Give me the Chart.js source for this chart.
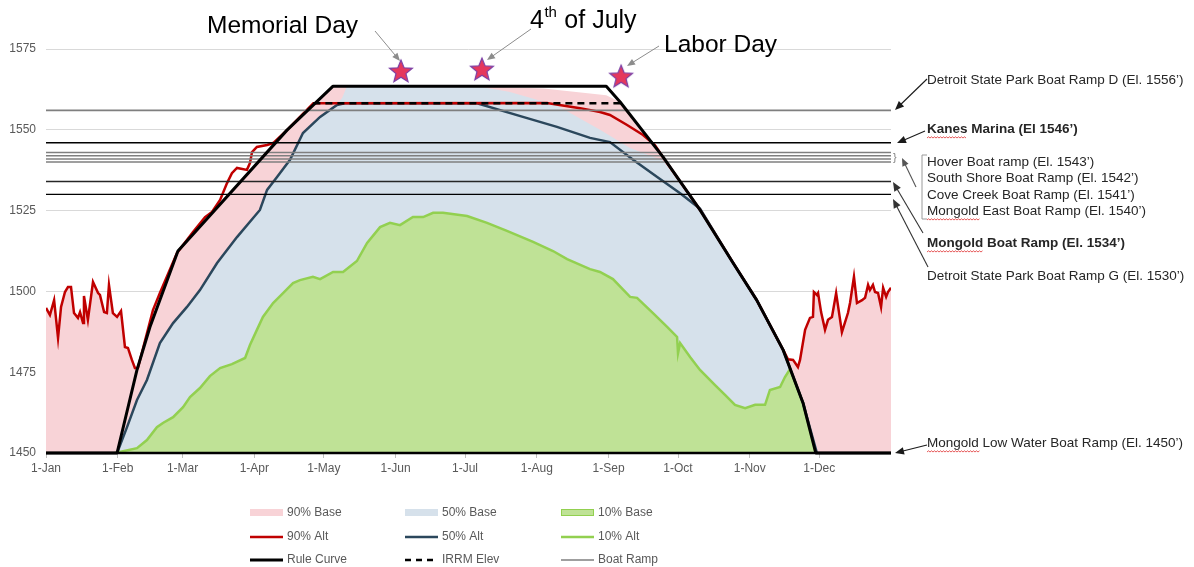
<!DOCTYPE html>
<html><head><meta charset="utf-8">
<script src="https://cdn.jsdelivr.net/npm/chart.js@4.4.1/dist/chart.umd.min.js"></script>
<style>html,body{margin:0;padding:0;background:#fff;}#wrap{width:1194px;height:567px;}</style>
</head><body><div id="wrap"><canvas id="c" width="1194" height="567"></canvas></div>
<script>
// ---------- DATA (day of year, elevation in ft) ----------
const monthTicks = [0,31,59,90,120,151,181,212,243,273,304,334];
const monthLabels = ['1-Jan','1-Feb','1-Mar','1-Apr','1-May','1-Jun','1-Jul','1-Aug','1-Sep','1-Oct','1-Nov','1-Dec'];
const yTicks = [1450,1475,1500,1525,1550,1575];

const ruleCurve = [[0,1450],[30.7,1450],[39.3,1475.7],[44.9,1489],[57,1512.5],[104.1,1549.9],[124,1563.5],[242,1563.5],[248,1558.6],[266.5,1541.6],[282.5,1525.2],[296.8,1508.8],[307,1497.3],[318.4,1481.9],[327,1465.5],[332.5,1450],[365,1450]];
const irrmElev = [[115.5,1558.2],[249,1558.2]];

const alt90 = [[0,1494.9],[1.7,1492.7],[3.5,1497.3],[5.2,1485.6],[6.5,1495.2],[8.2,1499.8],[9.5,1501.4],[10.8,1501.4],[12.1,1493.3],[13.8,1491.8],[14.7,1493.6],[16,1490.2],[16.4,1498.6],[18.1,1491.2],[20.3,1502.9],[22.5,1499.5],[23.3,1498.9],[25.1,1493.6],[26.3,1493.3],[27.2,1502],[28.9,1493.3],[30.7,1492.1],[32.4,1493.9],[34.1,1482.8],[35.4,1482.5],[37.1,1478.8],[38.4,1476.3],[39.7,1476.3],[46.2,1494.2],[49.2,1499.5],[56.6,1511.9],[63.5,1518.4],[68.7,1523],[71.7,1524.6],[75.2,1528.3],[78.2,1533.5],[80.3,1536.6],[82.5,1538.2],[86.8,1537.6],[88.1,1539.7],[89,1543.1],[91.1,1544.7],[95.5,1545.3],[98.1,1545.9],[104.1,1549.9],[115.5,1558.2],[216.4,1558.3],[230.7,1556.7],[239.3,1555.5],[243.6,1554.6],[251,1551.5],[257.9,1548.4],[263,1545.3],[266.5,1541.6],[282.5,1525.2],[296.8,1508.8],[307,1497.3],[318.4,1481.9],[320.5,1479],[322.7,1478.8],[324.8,1476.6],[325.7,1478.8],[327.9,1488.1],[330,1491.8],[331.3,1492.1],[331.7,1499.8],[333,1498.9],[333.5,1499.5],[334.8,1493.6],[336.5,1488.1],[337.8,1491.2],[339.5,1492.1],[341.3,1499.5],[343.8,1487.4],[346.4,1493.3],[347.3,1496.4],[349,1504.5],[350.3,1496.4],[352.5,1497.3],[353.8,1498],[355.1,1502],[355.9,1500.4],[357.2,1502],[358.1,1499.8],[359.4,1499.5],[360.7,1495.2],[361.6,1501.1],[362.9,1498.3],[363.7,1499.8],[365,1501.1]];

const base90 = [[0,1494.9],[1.7,1492.7],[3.5,1497.3],[5.2,1485.6],[6.5,1495.2],[8.2,1499.8],[9.5,1501.4],[10.8,1501.4],[12.1,1493.3],[13.8,1491.8],[14.7,1493.6],[16,1490.2],[16.4,1498.6],[18.1,1491.2],[20.3,1502.9],[22.5,1499.5],[23.3,1498.9],[25.1,1493.6],[26.3,1493.3],[27.2,1502],[28.9,1493.3],[30.7,1492.1],[32.4,1493.9],[34.1,1482.8],[35.4,1482.5],[37.1,1478.8],[38.4,1476.3],[39.7,1476.3],[44.9,1489],[57,1512.5],[104.1,1549.9],[124,1563.5],[186,1563.5],[215,1562.8],[242,1560.7],[248,1558.6],[266.5,1541.6],[282.5,1525.2],[296.8,1508.8],[307,1497.3],[318.4,1481.9],[320.5,1479],[322.7,1478.8],[324.8,1476.6],[325.7,1478.8],[327.9,1488.1],[330,1491.8],[331.3,1492.1],[331.7,1499.8],[333,1498.9],[333.5,1499.5],[334.8,1493.6],[336.5,1488.1],[337.8,1491.2],[339.5,1492.1],[341.3,1499.5],[343.8,1487.4],[346.4,1493.3],[347.3,1496.4],[349,1504.5],[350.3,1496.4],[352.5,1497.3],[353.8,1498],[355.1,1502],[355.9,1500.4],[357.2,1502],[358.1,1499.8],[359.4,1499.5],[360.7,1495.2],[361.6,1501.1],[362.9,1498.3],[363.7,1499.8],[365,1501.1]];

const alt50 = [[30.7,1450],[35,1458],[39.3,1466.4],[43.6,1472.6],[49.2,1484],[54.9,1490.2],[60.9,1495.2],[66.5,1500.4],[73.9,1508.8],[82.5,1516.8],[92.4,1525.2],[95.5,1531.4],[99.8,1535.4],[105.4,1540.7],[111,1549],[118.4,1554],[125.7,1557.7],[129,1558.2],[186.2,1558.2],[206,1554],[220.7,1550.9],[235,1547.5],[243.6,1546.2],[253.6,1540.7],[264,1535.4],[273.9,1530.4],[282.5,1525.6],[296.8,1508.8],[307,1497.3],[318.4,1481.9],[327,1465.5],[333,1450]];

const base50 = [[30.7,1450],[35,1458],[39.3,1466.4],[43.6,1472.6],[49.2,1484],[54.9,1490.2],[60.9,1495.2],[66.5,1500.4],[73.9,1508.8],[82.5,1516.8],[92.4,1525.2],[95.5,1531.4],[99.8,1535.4],[105.4,1540.7],[111,1549],[118.4,1554],[125.7,1557.7],[128,1560],[130,1563.5],[186.2,1563.5],[200,1561.8],[220.7,1557.5],[239.3,1550],[252.3,1544.4],[266.5,1540.5],[282.5,1525.2],[296.8,1508.8],[307,1497.3],[318.4,1481.9],[327,1465.5],[333,1450]];

const alt10 = [[29.8,1450],[39.3,1451.5],[43.6,1454],[47.9,1458],[50.5,1459.3],[54.9,1461.1],[59.2,1464.2],[62.2,1467.3],[66.5,1470.1],[70.8,1473.8],[75.2,1476.3],[80.3,1477.5],[86,1479.4],[88.1,1483.4],[91.1,1488.1],[93.7,1492.1],[98.1,1496.4],[102.4,1499.5],[106.7,1502.6],[109.7,1503.5],[115.3,1504.5],[118.4,1503.8],[124,1506],[128.3,1506],[134.3,1509.4],[138.7,1515],[144.3,1519.9],[148.6,1521.2],[152.9,1520.5],[158.5,1523],[162.9,1523],[167.2,1524.3],[171.5,1524.3],[181.9,1523.3],[190.5,1521.2],[199.1,1518.7],[210.4,1515.3],[219,1512.5],[225.1,1510],[235,1506.9],[239.3,1506],[244.9,1503.8],[252.3,1498.3],[255.3,1498],[262.2,1493.3],[268.3,1489],[272.6,1485.9],[273,1480.9],[273.9,1484],[278.2,1479.7],[282.5,1475.7],[289,1471],[293.3,1468],[297.6,1464.9],[302,1463.9],[306.3,1464.9],[310.6,1464.9],[312.7,1469.5],[317.1,1470.4],[319.2,1473.5],[321.4,1476],[327,1465.5],[332.5,1450]];
const base10 = alt10;

const rampElevs = [1556,1546,1543,1542,1541,1540,1534,1530,1450];
const rampColors = ['#7f7f7f','#000000','#7f7f7f','#7f7f7f','#7f7f7f','#7f7f7f','#262626','#000000','#000000'];
const rampWidths = [1.8,1.3,1.5,1.5,1.5,1.5,1.3,1.3,2.5];

const holidays = [[153.3,1567.9],[188.3,1568.5],[248.4,1566.3]];

// ---------- helpers ----------
const pts = a => a.map(p => ({x:p[0], y:p[1]}));
function makeStar(r){
  const c=document.createElement('canvas'); c.width=c.height=2*r+4;
  const g=c.getContext('2d'); g.beginPath();
  for(let i=0;i<10;i++){const a=-Math.PI/2+i*Math.PI/5; const rr=i%2? r*0.44 : r;
    g.lineTo(c.width/2+rr*Math.cos(a), c.height/2+rr*Math.sin(a));}
  g.closePath(); g.fillStyle='#e5385d'; g.fill(); g.strokeStyle='#7a3fa6'; g.lineWidth=1.2; g.stroke();
  return c;
}
const star = makeStar(12);

const FONT = '"Liberation Sans", Arial, sans-serif';

function arrow(ctx,x1,y1,x2,y2,col,lw,hl){
  const a=Math.atan2(y2-y1,x2-x1);
  ctx.save(); ctx.strokeStyle=col; ctx.fillStyle=col; ctx.lineWidth=lw;
  ctx.beginPath(); ctx.moveTo(x1,y1); ctx.lineTo(x2-Math.cos(a)*hl*0.8, y2-Math.sin(a)*hl*0.8); ctx.stroke();
  ctx.beginPath(); ctx.moveTo(x2,y2);
  ctx.lineTo(x2-hl*Math.cos(a)+hl*0.42*Math.sin(a), y2-hl*Math.sin(a)-hl*0.42*Math.cos(a));
  ctx.lineTo(x2-hl*Math.cos(a)-hl*0.42*Math.sin(a), y2-hl*Math.sin(a)+hl*0.42*Math.cos(a));
  ctx.closePath(); ctx.fill(); ctx.restore();
}
function squiggle(ctx,x1,x2,y){
  ctx.save(); ctx.strokeStyle='#e03030'; ctx.lineWidth=0.8; ctx.beginPath();
  let up=true; ctx.moveTo(x1,y);
  for(let x=x1+1.5;x<=x2;x+=1.5){ ctx.lineTo(x, up? y-1.2 : y); up=!up; }
  ctx.stroke(); ctx.restore();
}

const colors = {pinkFill:'#f8d3d7', blueFill:'#d6e1eb', greenFill:'#bfe296', red:'#c00000', navy:'#2b475c', green:'#92d050'};

const overlay = {
  id:'overlay',
  afterDraw(chart){
    const ctx=chart.ctx; ctx.save();
    // top annotations
    ctx.fillStyle='#000'; ctx.textBaseline='alphabetic'; ctx.textAlign='left';
    ctx.font='24.5px '+FONT; ctx.fillText('Memorial Day',207,33);
    ctx.font='25px '+FONT; ctx.fillText('4',530,28);
    let w4=ctx.measureText('4').width;
    ctx.font='15px '+FONT; ctx.fillText('th',530+w4+0.5,17);
    let wth=ctx.measureText('th').width;
    ctx.font='25px '+FONT; ctx.fillText(' of July',530+w4+wth+1,28);
    ctx.font='24.5px '+FONT; ctx.fillText('Labor Day',664,52);
    arrow(ctx,375,31,400,61,'#8c8c8c',1,8);
    arrow(ctx,531,29,487,60,'#8c8c8c',1,8);
    arrow(ctx,659,46,627,66,'#8c8c8c',1,8);

    // right annotations
    ctx.fillStyle='#262626'; ctx.textBaseline='middle';
    const n='13.5px '+FONT, b='bold 13.5px '+FONT;
    const labels=[
      ["Detroit State Park Boat Ramp D (El. 1556\u2019)",80,n],
      ["Kanes Marina (El 1546\u2019)",129,b],
      ["Hover Boat ramp (El. 1543\u2019)",162,n],
      ["South Shore Boat Ramp (El. 1542\u2019)",178,n],
      ["Cove Creek Boat Ramp (El. 1541\u2019)",195,n],
      ["Mongold East Boat Ramp (El. 1540\u2019)",211,n],
      ["Mongold Boat Ramp (El. 1534\u2019)",243,b],
      ["Detroit State Park Boat Ramp G (El. 1530\u2019)",276,n],
      ["Mongold Low Water Boat Ramp (El. 1450\u2019)",443,n]
    ];
    labels.forEach(l=>{ctx.font=l[2]; ctx.fillText(l[0],927,l[1]);});
    squiggle(ctx,927,966,138); squiggle(ctx,927,980,220); squiggle(ctx,927,983,252); squiggle(ctx,927,980,452);
    const k='#1a1a1a';
    arrow(ctx,927,79,895,110,k,1.1,9);
    arrow(ctx,925,131,897,143,k,1.1,9);
    arrow(ctx,916,187,902,158,'#555',1.1,8);
    arrow(ctx,923,233,893,182,'#333',1.1,9);
    arrow(ctx,928,267,893,199,'#333',1.1,9);
    arrow(ctx,927,445,895,453,k,1.1,9);
    // small brace and bracket
    ctx.font='11px '+FONT; ctx.fillStyle='#7f7f7f'; ctx.fillText('}',893,158);
    ctx.strokeStyle='#9a9a9a'; ctx.lineWidth=1; ctx.beginPath();
    ctx.moveTo(927,155); ctx.lineTo(922,155); ctx.lineTo(922,219); ctx.lineTo(927,219); ctx.stroke();

    // legend
    const lg=[
      {t:'90% Base',k:'box',c:colors.pinkFill},{t:'50% Base',k:'box',c:colors.blueFill},{t:'10% Base',k:'box',c:colors.greenFill,bc:'#92d050'},
      {t:'90% Alt',k:'line',c:colors.red,w:2.5},{t:'50% Alt',k:'line',c:colors.navy,w:2.5},{t:'10% Alt',k:'line',c:colors.green,w:2.5},
      {t:'Rule Curve',k:'line',c:'#000',w:3},{t:'IRRM Elev',k:'dash',c:'#000',w:2.5},{t:'Boat Ramp',k:'line',c:'#7f7f7f',w:1.3}
    ];
    const cx=[250,405,561], rowY=[513,537,560];
    ctx.font='12px '+FONT; ctx.textBaseline='middle';
    lg.forEach((it,i)=>{
      const x=cx[i%3], y=rowY[Math.floor(i/3)];
      if(it.k==='box'){ ctx.fillStyle=it.c; ctx.fillRect(x,y-4,33,7);
        if(it.bc){ctx.strokeStyle=it.bc; ctx.lineWidth=1; ctx.strokeRect(x+0.5,y-3.5,32,6);} }
      else { ctx.strokeStyle=it.c; ctx.lineWidth=it.w; ctx.setLineDash(it.k==='dash'?[6,5]:[]);
        ctx.beginPath(); ctx.moveTo(x,y); ctx.lineTo(x+33,y); ctx.stroke(); ctx.setLineDash([]); }
      ctx.fillStyle='#595959'; ctx.fillText(it.t,x+37,y);
    });
    ctx.restore();
  }
};

const datasets = [];
datasets.push({type:'scatter', label:'Holidays', data:pts(holidays), pointStyle:star, pointRadius:12, order:0, clip:false});
datasets.push({label:'Rule Curve', data:pts(ruleCurve), borderColor:'#000', borderWidth:3, fill:false, order:1, clip:false, borderJoinStyle:'round'});
datasets.push({label:'IRRM Elev', data:pts(irrmElev), borderColor:'#000', borderWidth:2.5, borderDash:[7,5], fill:false, order:2});
rampElevs.forEach((e,i)=>datasets.push({label:'Boat Ramp '+e, data:[{x:0,y:e},{x:365,y:e}], borderColor:rampColors[i], borderWidth:rampWidths[i], fill:false, order:3, clip:false}));
datasets.push({label:'90% Alt', data:pts(alt90), borderColor:colors.red, borderWidth:2.5, fill:false, order:4});
datasets.push({label:'50% Alt', data:pts(alt50), borderColor:colors.navy, borderWidth:2.5, fill:false, order:5});
datasets.push({label:'10% Alt', data:pts(alt10), borderColor:colors.green, borderWidth:2.5, fill:false, order:6});
datasets.push({label:'10% Base', data:pts(base10), borderWidth:0, backgroundColor:colors.greenFill, fill:'start', order:7});
datasets.push({label:'50% Base', data:pts(base50), borderWidth:0, backgroundColor:colors.blueFill, fill:'start', order:8});
datasets.push({label:'90% Base', data:pts(base90), borderWidth:0, backgroundColor:colors.pinkFill, fill:'start', order:9});

new Chart(document.getElementById('c'), {
  type:'line',
  data:{datasets},
  options:{
    responsive:false, animation:false, devicePixelRatio:1,
    layout:{padding:{left:0,right:303,top:49,bottom:90}},
    plugins:{legend:{display:false}, tooltip:{enabled:false}},
    elements:{point:{radius:0}, line:{tension:0}},
    scales:{
      x:{type:'linear', min:0, max:365,
        afterBuildTicks:s=>{s.ticks=monthTicks.map(v=>({value:v}));},
        afterFit:s=>{s.height=24;},
        ticks:{callback:v=>{const i=monthTicks.indexOf(v); return i>=0?monthLabels[i]:'';}, color:'#595959', font:{family:FONT,size:12}, maxRotation:0, autoSkip:false, padding:3},
        grid:{drawOnChartArea:false, drawTicks:true, tickLength:5, color:'#bfbfbf'},
        border:{display:false}},
      y:{min:1450, max:1575,
        afterBuildTicks:s=>{s.ticks=yTicks.map(v=>({value:v}));},
        afterFit:s=>{s.width=46;},
        ticks:{callback:v=>String(v), color:'#595959', font:{family:FONT,size:12}, padding:10},
        grid:{color:'#d9d9d9', drawTicks:false},
        border:{display:false}}
    }
  },
  plugins:[overlay]
});
</script></body></html>
